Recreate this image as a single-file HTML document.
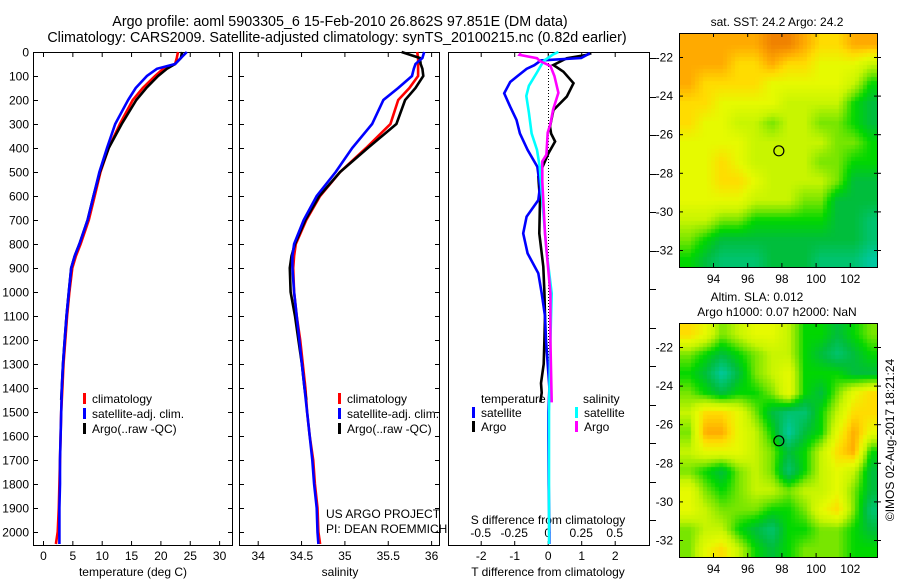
<!DOCTYPE html>
<html><head><meta charset="utf-8"><style>
html,body{margin:0;padding:0;background:#fff;}
#wrap{position:relative;width:900px;height:580px;overflow:hidden;font-family:"Liberation Sans",sans-serif;}
svg{position:absolute;left:0;top:0;}
canvas{position:absolute;}
</style></head><body>
<div id="wrap">
<canvas id="map1" style="left:679px;top:33px" width="198" height="234"></canvas>
<canvas id="map2" style="left:679px;top:323px" width="198" height="234"></canvas>
<svg id="svg" width="900" height="580"></svg>
</div>
<script>
// ---- data ----
const depthGrid = [0,25,50,70,100,150,200,300,400,500,600,700,800,850,900,1000,1100,1200,1300,1400,1500,1600,1700,1800,1900,2000,2050];
const tempClim = [23.0,22.8,22.5,20.5,19.1,17,15.3,13.1,11.2,9.8,8.8,7.8,6.4,5.6,5.0,4.5,4.1,3.8,3.5,3.3,3.1,3.0,2.9,2.8,2.7,2.5,2.2];
const tempSat = [24.5,23.5,22.5,19.4,17.7,15.8,14.5,12.3,10.9,9.6,8.6,7.6,6.2,5.4,4.8,4.4,4.0,3.7,3.4,3.2,3.1,3.0,2.9,2.9,2.8,2.8,2.8];
const argoDepth = [0,25,50,70,100,150,200,300,400,500,600,700,800,850,900,1000,1100,1200,1300,1400,1450];
const tempArgo = [23.7,23.5,22.5,21.1,19.6,17.6,15.9,13.4,11.2,9.7,8.6,7.6,6.2,5.4,4.8,4.4,4.0,3.7,3.4,3.2,3.1];
const salClim = [35.84,35.85,35.85,35.85,35.85,35.75,35.62,35.53,35.25,34.95,34.72,34.56,34.44,34.42,34.41,34.42,34.45,34.49,34.52,34.55,34.57,34.6,34.64,34.66,34.69,34.7,34.72];
const salSat = [35.92,35.9,35.82,35.8,35.78,35.62,35.45,35.32,35.09,34.9,34.68,34.53,34.42,34.40,34.40,34.42,34.45,34.48,34.51,34.54,34.57,34.6,34.63,34.65,34.68,34.69,34.7];
const salArgo = [35.66,35.87,35.88,35.9,35.91,35.82,35.70,35.6,35.27,34.95,34.71,34.55,34.43,34.39,34.37,34.38,34.43,34.47,34.51,34.54,34.56];
const tSatDiffDepth = [5,25,35,55,70,100,125,172,228,283,339,408,478,561,617,686,756,839,922,1006,1100,1200,1300,1400,1500,1600,1800,2000,2050];
const tSatDiff = [1.26,1.0,-0.2,-0.4,-0.63,-0.9,-1.12,-1.3,-1.12,-0.93,-0.83,-0.6,-0.31,-0.23,-0.28,-0.63,-0.73,-0.6,-0.28,-0.18,-0.08,-0.05,0,0.05,0.02,0.02,0.03,0.05,0.05];
const tArgoDiffDepth = [5,12,26,54,82,130,186,242,311,340,373,422,519,617,756,894,1000,1100,1200,1300,1380,1420,1460];
const tArgoDiff = [1.3,1.16,0.57,0.17,0.47,0.77,0.57,0.17,0.07,0.1,0.22,0.02,-0.28,-0.23,-0.25,-0.13,-0.1,-0.08,-0.1,-0.12,-0.2,-0.18,-0.22];
const sSatDiffDepth = [0,10,37,85,141,183,253,339,408,478,617,825,1006,1200,1500,2050];
const sSatDiff = [0.08,0.04,-0.03,-0.08,-0.14,-0.16,-0.14,-0.12,-0.08,-0.06,-0.04,-0.01,0.03,0.02,0.01,0.01];
const sArgoDiffDepth = [5,12,26,37,58,100,170,240,300,336,428,456,540,756,1006,1200,1460];
const sArgoDiff = [-0.2,-0.21,-0.08,-0.06,0.02,0.05,0.08,0.04,0.02,0,-0.01,-0.04,-0.04,-0.02,0.02,0.02,0.03];
const depthTicks = [0,100,200,300,400,500,600,700,800,900,1000,1100,1200,1300,1400,1500,1600,1700,1800,1900,2000];
const tempTicks = [0,5,10,15,20,25,30];
const salTicks = [34,34.5,35,35.5,36];
const tDiffTicks = [-2,-1,0,1,2];
const sDiffTicks = [-0.5,-0.25,0,0.25,0.5];
const sDiffTickLabels = ["-0.5","-0.25","0","0.25","0.5"];
const lonTicks = [94,96,98,100,102];
const latTicks = [-22,-24,-26,-28,-30,-32];
const sstGrid = [
[8,8,8,8,8,9,9,8,7,7,8,8],[8,8,8,7,7,8,7,7,6,6,6,5],[8,7,7,7,7,6,6,6,6,6,5,3],[7,7,6,6,6,6,5,5,5,5,3,2],
[7,6,6,5,5,4,5,5,4,4,3,2],[6,6,6,6,5,5,5,5,5,4,4,3],[6,6,7,6,5,5,5,5,4,4,3,3],[6,6,7,7,6,5,5,5,5,4,2,2],
[6,6,6,6,5,5,5,4,4,2,2,2],[5,5,4,4,3,3,3,3,3,2,2,1],[4,3,2,2,2,2,2,2,2,2,2,1],[3,2,1,1,1,2,2,2,1,1,1,0]];
const slaGrid = [
[7,6,4,5,6,6,5,3,3,2,3,4],[4,3,2,3,4,5,5,3,2,1,2,3],[3,2,0,2,4,5,6,3,3,3,2,2],[4,3,2,3,3,4,6,3,2,4,6,7],
[5,7,7,6,4,2,1,1,3,5,7,7],[4,8,8,6,5,3,0,2,3,6,8,6],[5,6,6,6,5,4,2,3,5,7,8,3],[4,3,2,4,5,4,1,3,5,6,5,2],
[6,4,3,4,5,5,4,5,5,6,4,2],[6,5,4,4,4,3,3,4,6,7,4,1],[4,5,5,3,2,1,3,3,4,4,3,2],[4,6,7,5,3,2,3,4,4,4,3,3]];
const argoLon = 97.851, argoLat = -26.862;

// ---- scales ----
const yD = d => 52 + d*0.24;
const xT = t => 43 + 5.87*t;
const xS = s => 257.7 + 86.7*(s-34);
const xTd = t => 547.7 + 33.5*t;
const xSd = s => 547.7 + 134*s;
const xLon = l => 713 + 17.1*(l-94);
const yLat = l => 57 + 19.3*(-22-l);

const svg = document.getElementById('svg');
const NS = 'http://www.w3.org/2000/svg';
function mk(tag, attrs, parent){const e=document.createElementNS(NS,tag);for(const k in attrs)e.setAttribute(k,attrs[k]);(parent||svg).appendChild(e);return e;}
function txt(x,y,s,anchor,size,parent){const e=mk('text',{x:x,y:y,'text-anchor':anchor||'middle','font-size':size||12,'font-family':'Liberation Sans, sans-serif',fill:'#000'},parent);e.textContent=s;return e;}

// titles
let t1 = txt(340,26,'Argo profile: aoml 5903305_6 15-Feb-2010 26.862S 97.851E (DM data)','middle',14.3);


let t2 = txt(337,42,'Climatology: CARS2009. Satellite-adjusted climatology: synTS_20100215.nc (0.82d earlier)','middle',14.3);



function panel(name,x0,x1,y0,y1){
  const g=mk('g',{});
  
  
  mk('rect',{x:x0+0.5,y:y0+0.5,width:x1-x0,height:y1-y0,fill:'none',stroke:'#000','stroke-width':1},g);
  return g;
}
function line(g,xs,ds,xf,color,name){
  const pts=xs.map((v,i)=>xf(v).toFixed(1)+','+yD(ds[i]).toFixed(1)).join(' ');
  const p=mk('polyline',{points:pts,fill:'none',stroke:color,'stroke-width':2.6,'stroke-linejoin':'miter'},g);
  
  
}
function depthTicksOn(g,x0,x1,labels){
  depthTicks.forEach(d=>{const y=yD(d)+0.5;
    mk('line',{x1:x0,y1:y,x2:x0+5,y2:y,stroke:'#000'},g);
    mk('line',{x1:x1-4,y1:y,x2:x1+1,y2:y,stroke:'#000'},g);
    if(labels){const e=txt(x0-4,y+4,String(d),'end',12,g);
      
      }
  });
}
function xTicks(g,ticks,labels,xf,y0,y1,ly){
  ticks.forEach((t,i)=>{const x=xf(t)+0.5;
    mk('line',{x1:x,y1:y0,x2:x,y2:y0+5,stroke:'#000'},g);
    mk('line',{x1:x,y1:y1-4,x2:x,y2:y1,stroke:'#000'},g);
    if(ly){const e=txt(x,ly,labels[i],'middle',12,g);
      
      }
  });
}
function legend(g,x,y,color,label){
  mk('rect',{x:x,y:y-10,width:3,height:11,fill:color},g);
  const e=txt(x+9,y,label,'start',12,g);
  
  
}

// panel 1 temperature
const p1=panel('temperature-panel',33,232,52,545);
depthTicksOn(p1,33,232,true);
xTicks(p1,tempTicks,tempTicks.map(String),xT,52,545,560);
line(p1,tempClim,depthGrid,xT,'#ff0000','temp-climatology-line');
line(p1,tempArgo,argoDepth,xT,'#000000','temp-argo-line');
line(p1,tempSat,depthGrid,xT,'#0000ff','temp-satellite-line');
let xl1=txt(133,576,'temperature (deg C)','middle',12,p1);

legend(p1,83,403,'#ff0000','climatology');
legend(p1,83,418,'#0000ff','satellite-adj. clim.');
legend(p1,83,433,'#000000','Argo(..raw -QC)');

// panel 2 salinity
const p2=panel('salinity-panel',239,439,52,545);
depthTicksOn(p2,239,439,false);
xTicks(p2,salTicks,['34','34.5','35','35.5','36'],xS,52,545,560);
line(p2,salClim,depthGrid,xS,'#ff0000','sal-climatology-line');
line(p2,salArgo,argoDepth,xS,'#000000','sal-argo-line');
line(p2,salSat,depthGrid,xS,'#0000ff','sal-satellite-line');
let xl2=txt(340,576,'salinity','middle',12,p2);

legend(p2,338,403,'#ff0000','climatology');
legend(p2,338,418,'#0000ff','satellite-adj. clim.');
legend(p2,338,433,'#000000','Argo(..raw -QC)');
let c1=txt(326,518,'US ARGO PROJECT','start',12,p2);

let c2=txt(326,533,'PI: DEAN ROEMMICH','start',12,p2);


// panel 3 differences
const p3=panel('difference-panel',448,649,52,545);
tDiffTicks.forEach(t=>{const x=xTd(t)+0.5;mk('line',{x1:x,y1:52,x2:x,y2:57,stroke:'#000'},p3);mk('line',{x1:x,y1:541,x2:x,y2:545,stroke:'#000'},p3);
  const e=txt(x,560,String(t),'middle',12,p3);
  
  });
sDiffTicks.forEach((s,i)=>{const e=txt(xSd(s),537,sDiffTickLabels[i],'middle',12,p3);
  
  });
for(let y=58;y<=545;y+=38.5){mk('line',{x1:649,y1:Math.round(y)+0.5,x2:656,y2:Math.round(y)+0.5,stroke:'#000'},p3);}
mk('line',{x1:548.5,y1:54,x2:548.5,y2:545,stroke:'#000','stroke-dasharray':'1,2'},p3);
let s1=txt(548,524,'S difference from climatology','middle',12,p3);

let s2=txt(548,576,'T difference from climatology','middle',12,p3);

line(p3,tArgoDiff,tArgoDiffDepth,xTd,'#000000','t-argo-diff-line');
line(p3,tSatDiff,tSatDiffDepth,xTd,'#0000ff','t-satellite-diff-line');
line(p3,sSatDiff,sSatDiffDepth,xSd,'#00ffff','s-satellite-diff-line');
line(p3,sArgoDiff,sArgoDiffDepth,xSd,'#ff00ff','s-argo-diff-line');
let lt=txt(481,403,'temperature','start',12,p3);
let ls=txt(583,403,'salinity','start',12,p3);
legend(p3,472,417,'#0000ff','satellite');
legend(p3,472,431,'#000000','Argo');
legend(p3,575,417,'#00ffff','satellite');
legend(p3,575,431,'#ff00ff','Argo');

// maps
const stops=[[0,[0,200,160]],[2,[0,190,60]],[3,[0,215,0]],[4,[120,230,0]],[5,[200,245,0]],[6,[230,250,0]],[7,[255,220,0]],[8,[255,170,0]],[9,[240,130,0]]];
function cmap(v){for(let i=0;i<stops.length-1;i++){const a=stops[i],b=stops[i+1];if(v<=b[0]){const f=(v-a[0])/(b[0]-a[0]);return a[1].map((c,k)=>Math.round(c+(b[1][k]-c)*f));}}return stops[stops.length-1][1];}
function drawMap(id,grid){
  const cv=document.getElementById(id),ctx=cv.getContext('2d');
  const W=cv.width,H=cv.height,R=grid.length,C=grid[0].length;
  const img=ctx.createImageData(W,H);
  for(let y=0;y<H;y++)for(let x=0;x<W;x++){
    const bx=Math.floor(x/4)*4/W*C-0.5,by=Math.floor(y/4)*4/H*R-0.5;
    const X=Math.min(C-1,Math.max(0,bx)),Y=Math.min(R-1,Math.max(0,by));
    const i0=Math.floor(X),j0=Math.floor(Y),i1=Math.min(C-1,i0+1),j1=Math.min(R-1,j0+1),fx=X-i0,fy=Y-j0;
    const v=(grid[j0][i0]*(1-fx)+grid[j0][i1]*fx)*(1-fy)+(grid[j1][i0]*(1-fx)+grid[j1][i1]*fx)*fy;
    const c=cmap(v),k=(y*W+x)*4;img.data[k]=c[0];img.data[k+1]=c[1];img.data[k+2]=c[2];img.data[k+3]=255;}
  ctx.putImageData(img,0,0);
}
drawMap('map1',sstGrid);drawMap('map2',slaGrid);
function mapAxes(name,top){
  const g=mk('g',{});
  
  
  mk('rect',{x:679.5,y:top+0.5,width:198,height:234,fill:'none',stroke:'#000'},g);
  const off=top-33;
  latTicks.forEach(l=>{const y=yLat(l)+off+0.5;mk('line',{x1:679,y1:y,x2:683,y2:y,stroke:'#000'},g);mk('line',{x1:874,y1:y,x2:881,y2:y,stroke:'#000'},g);
    const e=txt(673,y+4,String(l),'end',12,g);});
  lonTicks.forEach(l=>{const x=xLon(l)+0.5;mk('line',{x1:x,y1:top,x2:x,y2:top+4,stroke:'#000'},g);mk('line',{x1:x,y1:top+230,x2:x,y2:top+234,stroke:'#000'},g);
    const e=txt(x,top+250,String(l),'middle',12,g);});
  const m=mk('circle',{cx:xLon(argoLon),cy:yLat(argoLat)+off,r:5,fill:'none',stroke:'#000','stroke-width':1.2},g);
  
  
}
mapAxes('sst-map-axes',33);
mapAxes('sla-map-axes',323);
let m1=txt(777,26,'sat. SST: 24.2 Argo: 24.2','middle',12);
let m2=txt(757,301,'Altim. SLA: 0.012','middle',12);
let m3=txt(777,316,'Argo h1000: 0.07 h2000: NaN','middle',12);
let cr=txt(0,0,'©IMOS 02-Aug-2017 18:21:24','middle',12);
cr.setAttribute('transform','translate(894,440) rotate(-90)');


</script>
</body></html>
